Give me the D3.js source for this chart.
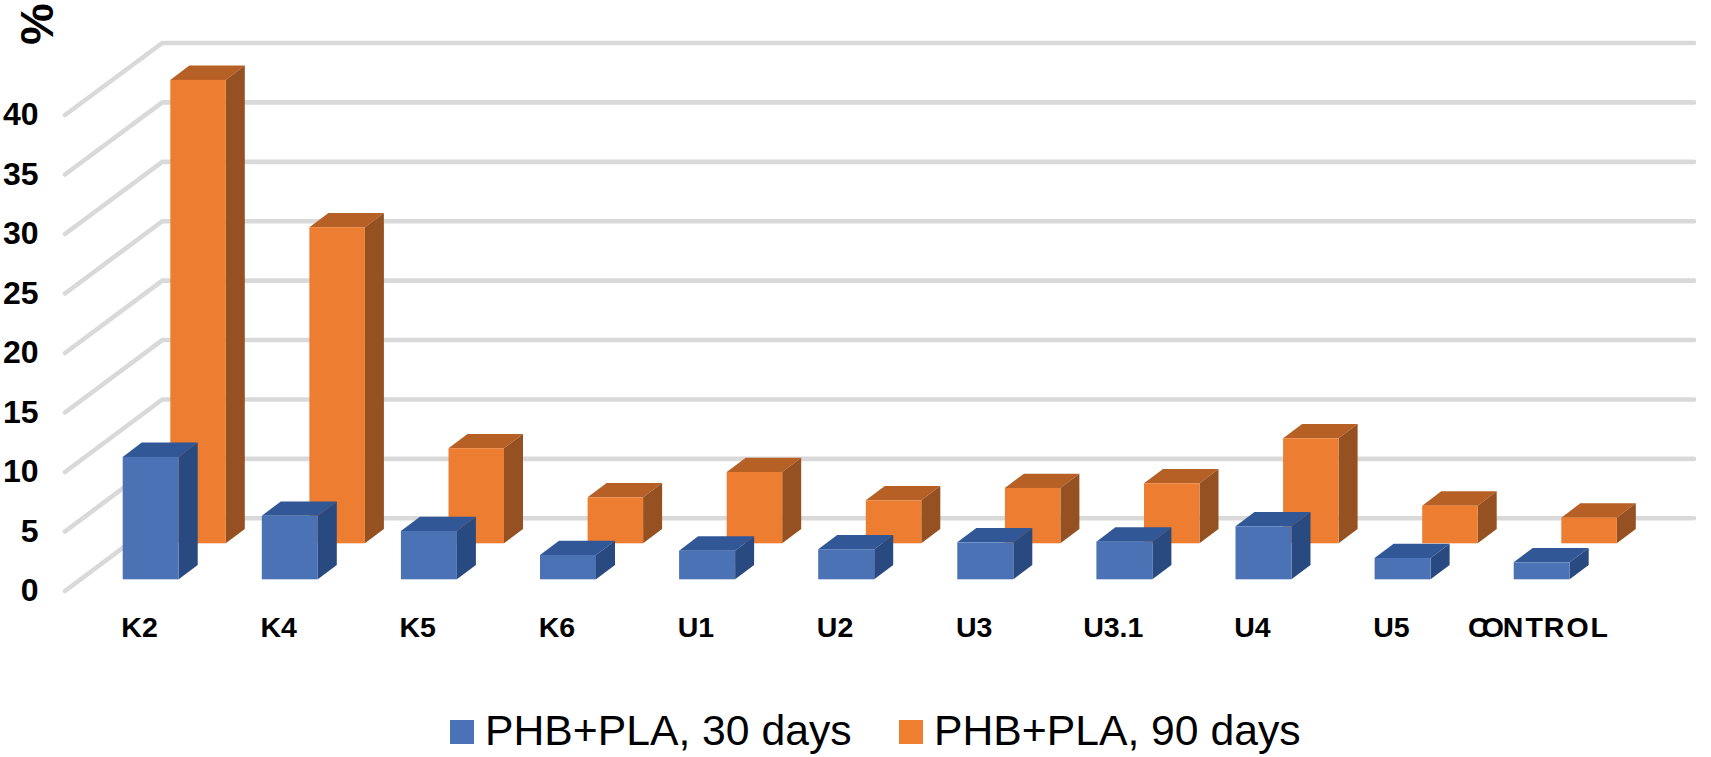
<!DOCTYPE html>
<html><head><meta charset="utf-8">
<script src="https://cdn.jsdelivr.net/npm/d3@7/dist/d3.min.js"></script>
<style>html,body{margin:0;padding:0;background:#fff}svg{display:block}text{font-family:"Liberation Sans",Arial,sans-serif;fill:#000}</style>
</head><body><svg id="c" width="1711" height="757"></svg>
<script>
const categories=["K2","K4","K5","K6","U1","U2","U3","U3.1","U4","U5","CONTROL"];
const days30=[10.3,5.35,4.07,2.05,2.41,2.53,3.11,3.17,4.46,1.79,1.43];
const days90=[39.0,26.6,8.0,3.87,6.0,3.62,4.66,5.05,8.84,3.17,2.16];
const yTicks=[0,5,10,15,20,25,30,35,40];
const seriesNames=["PHB+PLA, 30 days","PHB+PLA, 90 days"];

const svg=d3.select("#c");
const step=139.1,depthX=19,depthY=14.3,x0=122.7;
const x=d3.scaleBand().domain(categories).range([x0,x0+step*categories.length]);
const yBack=d3.scaleLinear().domain([0,40]).range([518.3,43]);
const yFront=d3.scaleLinear().domain([0,40]).range([591,115]);

const grid=svg.append("g");
grid.selectAll("path").data(yTicks).join("path")
 .attr("d",t=>d3.line()([[65,yFront(t)],[162.3,yBack(t)],[1694,yBack(t)]]))
 .attr("fill","none").attr("stroke","#d9d9d9").attr("stroke-width",4.6)
 .attr("stroke-linecap","round").attr("stroke-linejoin","miter");

function bars(values,cfg){
 const g=svg.append("g");
 const barW=cfg.width;
 const rows=categories.map((c,i)=>({c,v:values[i]}));
 const item=g.selectAll("g").data(rows).join("g");
 const bx=d=>x(d.c)+cfg.offset;
 const top=d=>cfg.base-(yBack(0)-yBack(d.v));
 item.append("path").attr("fill",cfg.top)
  .attr("d",d=>d3.line()([[bx(d),top(d)],[bx(d)+depthX,top(d)-depthY],[bx(d)+barW+depthX,top(d)-depthY],[bx(d)+barW,top(d)]])+"Z");
 item.append("path").attr("fill",cfg.side)
  .attr("d",d=>d3.line()([[bx(d)+barW,top(d)],[bx(d)+barW+depthX,top(d)-depthY],[bx(d)+barW+depthX,cfg.base-depthY],[bx(d)+barW,cfg.base]])+"Z");
 item.append("rect").attr("fill",cfg.front)
  .attr("x",bx).attr("y",top).attr("width",barW).attr("height",d=>cfg.base-top(d));
}
bars(days90,{offset:47.6,width:55.5,base:543.3,front:"#ed7d31",top:"#b66025",side:"#955121"});
bars(days30,{offset:0,width:56,base:579.3,front:"#4a72b5",top:"#315796",side:"#294a80"});

const yAxis=svg.append("g").attr("transform","translate(38.5,0)")
 .call(d3.axisLeft(yFront).tickValues(yTicks).tickSize(0).tickPadding(0).offset(0));
yAxis.select(".domain").remove();
yAxis.selectAll("text").attr("font-size",32).attr("font-weight",700).style("font-family",'"Liberation Sans"');

const xAxis=svg.append("g").attr("transform","translate(-52.7,637.3)")
 .call(d3.axisBottom(x).tickSize(0).tickPadding(0).offset(0));
xAxis.select(".domain").remove();
xAxis.selectAll("text").attr("y",0).attr("dy",0).attr("font-size",28.5).attr("font-weight",700).style("font-family",'"Liberation Sans"');
xAxis.selectAll("text").filter(d=>d==="CONTROL").attr("x",7.5).attr("dx","0 -7 -1 2 1 2 2");

svg.append("text").attr("transform","translate(53,45) rotate(-90)")
 .attr("font-size",47).attr("font-weight",700).text("%");

const legend=svg.append("g").selectAll("g").data(seriesNames).join("g");
const legX=[450,899],legC=["#4a72b8","#f08030"];
legend.append("rect").attr("x",(d,i)=>legX[i]).attr("y",720).attr("width",24).attr("height",24).attr("fill",(d,i)=>legC[i]);
legend.append("text").attr("x",(d,i)=>legX[i]+35).attr("y",745).attr("font-size",42.7).text(d=>d);
</script></body></html>
